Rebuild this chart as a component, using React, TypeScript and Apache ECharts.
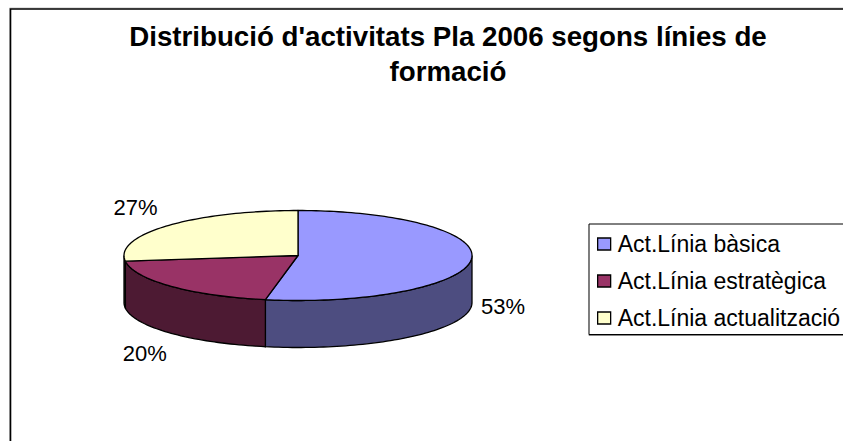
import React, { useEffect, useRef } from "react";
import * as echarts from "echarts";

const titleText = "Distribució d'activitats Pla 2006 segons línies de\nformació";
const categories = ["Act.Línia bàsica", "Act.Línia estratègica", "Act.Línia actualització"];
const shares = [53, 20, 27];
const topColors = ["#9999FF", "#993366", "#FFFFCC"];
const sideColors = ["#4D4D80", "#4D1A33", "#808066"];
const labelNudges = [[0, 16], [-3, -2.5], [-8, 0]];

const CX = 298;
const CY = 255.5;
const RX = 174;
const RY = 45;
const DEPTH = 47;
const LABEL_RX = 206;
const LABEL_RY = 111;
const LABEL_DROP = 25;
const FONT = '"Liberation Sans", Arial, sans-serif';

const total = shares.reduce((a, b) => a + b, 0);
const polar = (deg: number, rx: number, ry: number) => {
  const r = (deg * Math.PI) / 180;
  return [CX + rx * Math.sin(r), CY - ry * Math.cos(r)];
};
const arc = (from: number, to: number, dy = 0) => {
  const pts: number[][] = [];
  const n = Math.max(2, Math.ceil(Math.abs(to - from) / 1.5));
  for (let i = 0; i <= n; i++) {
    const p = polar(from + ((to - from) * i) / n, RX, RY);
    pts.push([p[0], p[1] + dy]);
  }
  return pts;
};

export default function App() {
  const ref = useRef<HTMLDivElement>(null);
  useEffect(() => {
    document.body.style.margin = "0";
    const chart = echarts.init(ref.current!, undefined, { renderer: "svg", width: 843, height: 441 });
    let cum = 0;
    const series = categories.map((name, i) => {
      const start = (cum / total) * 360;
      cum += shares[i];
      const end = (cum / total) * 360;
      return {
        type: "custom",
        name,
        coordinateSystem: "none",
        silent: true,
        itemStyle: { color: topColors[i] },
        data: [[start, end, shares[i], i]],
        renderItem: (_: any, api: any) => {
          const a = api.value(0);
          const b = api.value(1);
          const idx = api.value(3);
          const children: any[] = [];
          const s0 = Math.max(a, 90);
          const s1 = Math.min(b, 270);
          if (s1 > s0) {
            children.push({
              type: "polygon",
              shape: { points: [...arc(s0, s1), ...arc(s1, s0, DEPTH)] },
              style: { fill: sideColors[idx], stroke: "#000", lineWidth: 1.3 },
            });
          }
          children.push({
            type: "polygon",
            z2: 5,
            shape: { points: [[CX, CY], ...arc(a, b)] },
            style: { fill: topColors[idx], stroke: "#000", lineWidth: 1.3, lineJoin: "round" },
          });
          const lp = polar((a + b) / 2, LABEL_RX, LABEL_RY);
          children.push({
            type: "text",
            z2: 6,
            style: {
              text: `${api.value(2)}%`,
              x: lp[0] + labelNudges[idx][0],
              y: lp[1] + LABEL_DROP + labelNudges[idx][1],
              fill: "#000",
              font: `22px ${FONT}`,
              align: "center",
              verticalAlign: "middle",
            },
          });
          return { type: "group", children };
        },
      };
    });
    chart.setOption({
      animation: false,
      backgroundColor: "#fff",
      title: {
        text: titleText,
        left: 443,
        top: 14,
        textAlign: "center",
        textStyle: {
          fontFamily: FONT,
          fontWeight: "bold",
          fontSize: 27.7,
          lineHeight: 35,
          color: "#000",
        },
      },
      legend: {
        orient: "vertical",
        left: 589,
        top: 224,
        padding: [8.5, 30, 5, 8],
        itemWidth: 13,
        itemHeight: 12,
        itemGap: 14,
        backgroundColor: "#fff",
        borderColor: "#000",
        borderWidth: 1,
        shadowColor: "#888",
        shadowBlur: 0,
        shadowOffsetY: 1,
        selectedMode: false,
        data: categories.map((name) => ({
          name,
          icon: "rect",
          itemStyle: { borderColor: "#000", borderWidth: 1.3 },
        })),
        textStyle: { fontFamily: FONT, fontSize: 23, color: "#000", padding: [0, 0, 0, 2] },
      },
      graphic: [
        {
          type: "rect",
          silent: true,
          z: -2,
          shape: { x: 9.5, y: 8, width: 1000, height: 1000 },
          style: { fill: "none", stroke: "#c4c4c4", lineWidth: 1 },
        },
        {
          type: "rect",
          silent: true,
          z: -1,
          shape: { x: 10.5, y: 9, width: 1000, height: 1000 },
          style: { fill: "none", stroke: "#000", lineWidth: 1.6 },
        },
      ],
      series,
    });
    return () => chart.dispose();
  }, []);
  return <div ref={ref} style={{ position: "fixed", left: 0, top: 0, width: 843, height: 441 }} />;
}
